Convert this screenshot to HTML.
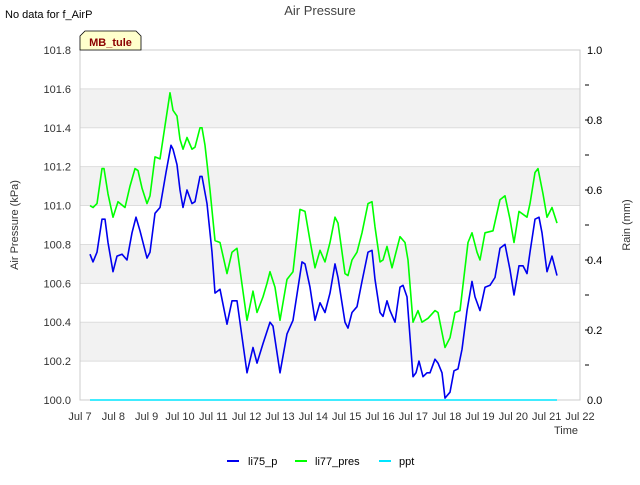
<!DOCTYPE html>
<html><head><meta charset="utf-8"><style>
body{margin:0;background:#fff;}
svg{font-family:"Liberation Sans","DejaVu Sans",sans-serif;}
</style></head><body>
<svg id="chart" width="640" height="480" viewBox="0 0 640 480">
<text x="5" y="18" font-size="11" fill="#000">No data for f_AirP</text>
<text x="320" y="15" font-size="13" fill="#444" text-anchor="middle">Air Pressure</text>
<g id="bands"></g>
<g id="grid"></g>
<rect x="80" y="50" width="500" height="350" fill="none" stroke="#ccc"/>
<g id="yticks"></g>
<g id="rticks"></g>
<g id="xticks"></g>
<g id="series"></g>
<text transform="translate(18,225) rotate(-90)" font-size="11" fill="#333" text-anchor="middle">Air Pressure (kPa)</text>
<text transform="translate(630,225) rotate(-90)" font-size="11" fill="#333" text-anchor="middle">Rain (mm)</text>
<text x="578" y="434" font-size="11" fill="#333" text-anchor="end">Time</text>
<g>
<path d="M80,50 L80,36 L85,31 L136,31 L141,36 L141,50 Z" fill="#ffffcc" stroke="#000" stroke-width="0.8"/>
<text x="110.5" y="46" font-size="11" font-weight="bold" fill="#8b0000" text-anchor="middle">MB_tule</text>
</g>
<g>
<g><line x1="227" y1="461" x2="239" y2="461" stroke="#0000ee" stroke-width="2"/><text x="248" y="465" font-size="11" fill="#000">li75_p</text></g>
<g><line x1="295" y1="461" x2="307" y2="461" stroke="#00ff00" stroke-width="2"/><text x="315" y="465" font-size="11" fill="#000">li77_pres</text></g>
<g><line x1="379" y1="461" x2="391" y2="461" stroke="#00e5ff" stroke-width="2"/><text x="399" y="465" font-size="11" fill="#000">ppt</text></g>
</g>
</svg>
<script>
const yTickLabels=["100.0","100.2","100.4","100.6","100.8","101.0","101.2","101.4","101.6","101.8"];
const rTickLabels=["0.0","0.2","0.4","0.6","0.8","1.0"];
const xTickLabels=["Jul 7","Jul 8","Jul 9","Jul 10","Jul 11","Jul 12","Jul 13","Jul 14","Jul 15","Jul 16","Jul 17","Jul 18","Jul 19","Jul 20","Jul 21","Jul 22"];
const bTimes=[7.30,7.39,7.51,7.66,7.75,7.84,7.99,8.11,8.26,8.41,8.56,8.68,8.80,9.01,9.10,9.25,9.40,9.58,9.73,9.79,9.91,10.00,10.09,10.21,10.36,10.45,10.60,10.66,10.81,10.96,11.05,11.20,11.41,11.56,11.71,12.01,12.19,12.31,12.49,12.70,12.79,13.00,13.21,13.39,13.66,13.75,13.90,14.05,14.20,14.35,14.50,14.65,14.74,14.95,15.04,15.16,15.31,15.46,15.64,15.76,15.85,16.00,16.09,16.21,16.30,16.45,16.60,16.69,16.81,16.99,17.08,17.17,17.29,17.41,17.50,17.65,17.74,17.86,17.95,18.10,18.22,18.34,18.46,18.61,18.76,18.85,19.00,19.15,19.30,19.45,19.60,19.75,19.90,20.02,20.17,20.29,20.41,20.50,20.65,20.77,20.86,21.01,21.16,21.31];
const li75p=[100.75,100.71,100.76,100.93,100.93,100.81,100.66,100.74,100.75,100.72,100.86,100.94,100.87,100.73,100.76,100.96,100.99,101.17,101.31,101.29,101.21,101.08,100.99,101.08,101.01,101.02,101.15,101.15,101.01,100.76,100.55,100.57,100.39,100.51,100.51,100.14,100.27,100.19,100.29,100.40,100.38,100.14,100.34,100.41,100.71,100.70,100.58,100.41,100.50,100.45,100.55,100.70,100.63,100.40,100.37,100.45,100.48,100.61,100.76,100.77,100.62,100.45,100.43,100.51,100.46,100.40,100.58,100.59,100.53,100.12,100.14,100.20,100.12,100.14,100.14,100.21,100.19,100.14,100.01,100.04,100.15,100.16,100.26,100.46,100.61,100.53,100.46,100.58,100.59,100.63,100.78,100.80,100.67,100.54,100.69,100.69,100.65,100.76,100.93,100.94,100.86,100.66,100.74,100.64];
const gTimes=[7.30,7.39,7.51,7.66,7.72,7.84,7.99,8.14,8.35,8.50,8.65,8.74,8.86,9.01,9.10,9.25,9.40,9.55,9.70,9.79,9.91,10.00,10.09,10.21,10.36,10.45,10.60,10.66,10.75,10.90,11.05,11.20,11.41,11.56,11.71,12.01,12.19,12.31,12.49,12.61,12.70,12.85,13.00,13.21,13.39,13.60,13.75,13.90,14.05,14.20,14.35,14.50,14.65,14.74,14.95,15.04,15.16,15.31,15.46,15.64,15.76,15.85,16.00,16.09,16.21,16.36,16.60,16.75,16.84,16.99,17.14,17.26,17.44,17.65,17.74,17.95,18.10,18.25,18.40,18.64,18.76,18.91,19.00,19.15,19.39,19.60,19.75,19.90,20.02,20.17,20.41,20.50,20.65,20.74,20.89,21.01,21.16,21.31];
const li77pres=[101.00,100.99,101.01,101.19,101.19,101.06,100.94,101.02,100.99,101.10,101.19,101.18,101.09,101.01,101.05,101.25,101.24,101.41,101.58,101.49,101.46,101.34,101.29,101.35,101.29,101.30,101.40,101.40,101.31,101.08,100.82,100.81,100.65,100.76,100.78,100.41,100.56,100.45,100.53,100.60,100.66,100.58,100.41,100.62,100.66,100.98,100.97,100.82,100.68,100.77,100.71,100.81,100.94,100.91,100.65,100.64,100.72,100.76,100.86,101.01,101.02,100.89,100.71,100.72,100.79,100.68,100.84,100.81,100.72,100.40,100.46,100.40,100.42,100.46,100.45,100.27,100.32,100.45,100.46,100.81,100.86,100.76,100.72,100.86,100.87,101.03,101.05,100.93,100.81,100.97,100.94,101.01,101.17,101.19,101.06,100.94,100.99,100.91];
const pptTimes=[7.30,21.31];
const ppt=[0,0];

const NS="http://www.w3.org/2000/svg";
const X0=80,X1=580,Y0=400,Y1=50;
function xs(d){return X0+(d-7)/15*(X1-X0);}
function ys(v){return Y0-(v-100)/1.8*(Y0-Y1);}
function yr(v){return Y0-v/1.0*(Y0-Y1);}
function mk(tag,attrs,parent){const e=document.createElementNS(NS,tag);for(const k in attrs)e.setAttribute(k,attrs[k]);parent.appendChild(e);return e;}
const bands=document.getElementById('bands'),grid=document.getElementById('grid');
yTickLabels.forEach((t,i)=>{
  const v=parseFloat(t);
  if(i%2==1&&i<yTickLabels.length-1){
    const r=mk('rect',{x:X0,y:ys(v+0.2),width:X1-X0,height:ys(v)-ys(v+0.2),fill:'#f2f2f2'},bands);
    
    
  }
  const l=mk('line',{x1:X0,x2:X1,y1:ys(v),y2:ys(v),stroke:'#dddddd'},grid);
  
  
  const tx=mk('text',{x:71,y:ys(v)+4,'font-size':11,fill:'#333','text-anchor':'end'},document.getElementById('yticks'));
  tx.textContent=t;
  
  
});
const rt=document.getElementById('rticks');
rTickLabels.forEach(t=>{
  const v=parseFloat(t);
  const tx=mk('text',{x:587,y:yr(v)+4,'font-size':11,fill:'#000'},rt);
  tx.textContent=t;
  
  
});
for(let k=1;k<10;k++){
  const l=mk('line',{x1:X1+5,x2:X1+9,y1:yr(k/10),y2:yr(k/10),stroke:'#000'},rt);
  
  
}
const xt=document.getElementById('xticks');
xTickLabels.forEach((t,i)=>{
  const tx=mk('text',{x:xs(7+i),y:420,'font-size':11,fill:'#333','text-anchor':'middle'},xt);
  tx.textContent=t;
  
  
});
const sg=document.getElementById('series');
function line(times,vals,sc,color,name){
  const d=times.map((t,i)=>(i?'L':'M')+xs(t).toFixed(1)+','+sc(vals[i]).toFixed(1)).join(' ');
  const p=mk('path',{d:d,fill:'none',stroke:color,'stroke-width':1.6,'stroke-linejoin':'round'},sg);
  
  
}
line(gTimes,li77pres,ys,'#00ff00','li77-pres-line');
line(bTimes,li75p,ys,'#0000ee','li75-p-line');
line(pptTimes,ppt,yr,'#00e5ff','ppt-line');
</script>
</body></html>
